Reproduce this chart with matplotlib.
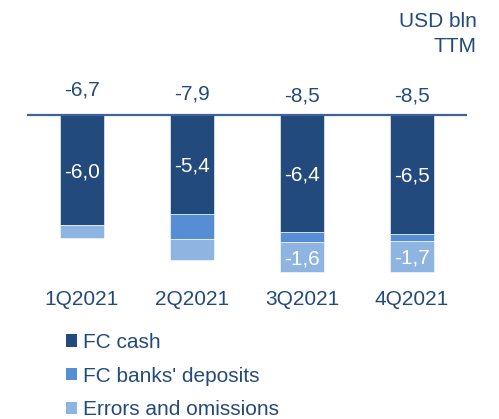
import matplotlib
matplotlib.use("Agg")
import matplotlib.pyplot as plt
from matplotlib.patches import Patch

plt.rcParams['font.family'] = ['Liberation Sans', 'DejaVu Sans']

categories = ["1Q2021", "2Q2021", "3Q2021", "4Q2021"]
fc_cash = [-6.0, -5.4, -6.4, -6.5]
fc_deposits = [0.0, -1.35, -0.55, -0.35]
errors = [-0.7, -1.15, -1.6, -1.7]
totals = [-6.7, -7.9, -8.5, -8.5]
series_names = ["FC cash", "FC banks' deposits", "Errors and omissions"]

c_dark = '#234A7D'
c_mid = '#558ED5'
c_light = '#8EB4E2'
txt = '#244A7C'

W, H = 499, 419
fig = plt.figure(figsize=(W / 100, H / 100), dpi=100)
px_per_unit = 18.33
zero_px = 115
ax = fig.add_axes([27 / W, 0, 440 / W, 1])
ax.set_xlim(-0.5, 3.5)
ax.set_ylim(-(H - zero_px) / px_per_unit, zero_px / px_per_unit)
ax.axis('off')

x = list(range(len(categories)))
bw = 0.4
b1 = ax.bar(x, fc_cash, width=bw, color=c_dark, edgecolor='white', linewidth=0.4, label=series_names[0])
bottom2 = fc_cash
b2 = ax.bar(x, fc_deposits, width=bw, bottom=bottom2, color=c_mid, edgecolor='white', linewidth=0.4, label=series_names[1])
bottom3 = [a + b for a, b in zip(fc_cash, fc_deposits)]
b3 = ax.bar(x, errors, width=bw, bottom=bottom3, color=c_light, edgecolor='white', linewidth=0.4, label=series_names[2])

ax.axhline(0, color='#3F6398', lw=1.6, zorder=3)

def fmt(v):
    return f"{v:.1f}".replace('.', ',')

fs = 15
for i in x:
    yc = fc_cash[i] / 2
    ax.annotate(fmt(fc_cash[i]), (i, yc), xytext=(0, -5.2), textcoords='offset points',
                ha='center', va='baseline', color='white', fontsize=fs)
    if abs(errors[i]) >= 1.5:
        yc3 = bottom3[i] + errors[i] / 2
        ax.annotate(fmt(errors[i]), (i, yc3), xytext=(0, -5.6), textcoords='offset points',
                    ha='center', va='baseline', color='white', fontsize=fs)

# total labels above the zero line
total_baseline_px = [95, 99, 101.5, 101.5]
for i in x:
    ax.text(i, (zero_px - total_baseline_px[i]) / px_per_unit, fmt(totals[i]),
            ha='center', va='baseline', color=txt, fontsize=fs)

# category labels
for i in x:
    ax.text(i, (zero_px - 305) / px_per_unit, categories[i], ha='center', va='baseline',
            color=txt, fontsize=fs)

fig.text(477 / W, 1 - 27.3 / H, "USD bln", ha='right', va='baseline', color=txt, fontsize=fs)
fig.text(477 / W, 1 - 51.7 / H, "TTM", ha='right', va='baseline', color=txt, fontsize=fs)

handles = [Patch(facecolor=c_dark), Patch(facecolor=c_mid), Patch(facecolor=c_light)]
leg = fig.legend(handles, series_names, loc='upper left', bbox_to_anchor=(66 / W, 1 - 333 / H),
                 frameon=False, fontsize=fs, handlelength=0.55, handleheight=0.55,
                 handletextpad=0.25, labelspacing=0.7, borderpad=0, borderaxespad=0)
for t in leg.get_texts():
    t.set_color(txt)

fig.savefig('out.png', dpi=100)
